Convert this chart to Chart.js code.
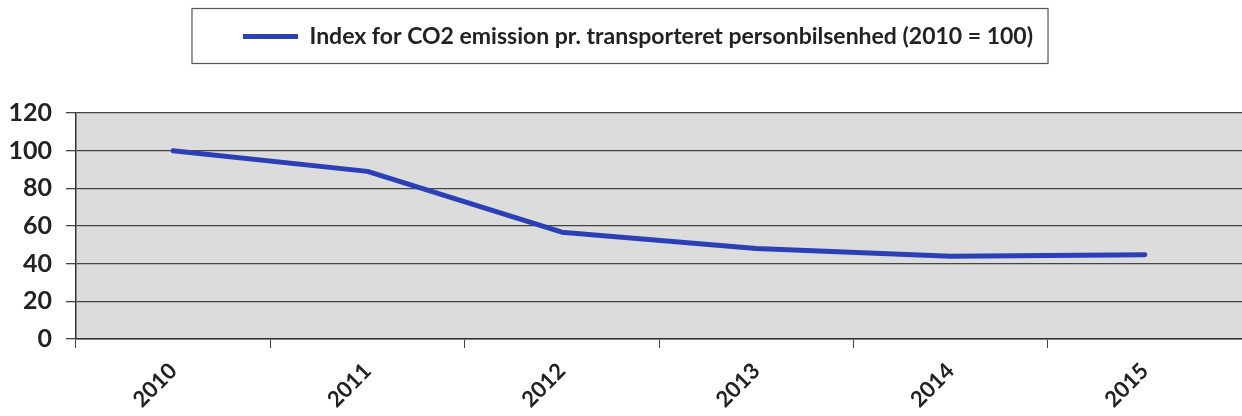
<!DOCTYPE html>
<html>
<head>
<meta charset="utf-8">
<script src="https://cdn.jsdelivr.net/npm/chart.js@4"></script>
<style>
  html, body { margin: 0; padding: 0; background: #fff; }
  #wrap { width: 1242px; height: 416px; }
</style>
</head>
<body>
<div id="wrap"><canvas id="chart" width="1242" height="416"></canvas></div>
<script>
const years = ['2010', '2011', '2012', '2013', '2014', '2015']
const co2Index = [100, 89, 56.7, 48, 44, 44.8]
const seriesLabel = 'Index for CO2 emission pr. transporteret personbilsenhed (2010 = 100)'
const yTicks = [0, 20, 40, 60, 80, 100, 120]

// gray plot area, a frame round the legend and some air under it
const backdrop = {
  id: 'backdrop',
  afterInit(chart) {
    const legend = chart.legend
    const fit = legend.fit.bind(legend)
    legend.fit = () => { fit(); legend.height += 55 }
  },
  afterLayout(chart) {
    // legend sits a little right of centre in the original
    chart.legend.left += 17
    chart.legend.right += 17
  },
  beforeDraw(chart) {
    const { ctx, chartArea: a } = chart
    ctx.save()
    ctx.fillStyle = '#dcdcdc'
    ctx.fillRect(a.left, a.top, a.right - a.left, a.bottom - a.top)
    ctx.restore()
  },
  afterDraw(chart) {
    const box = chart.legend.legendHitBoxes[0]
    if (!box) return
    const { ctx } = chart
    ctx.save()
    ctx.strokeStyle = '#555'
    ctx.lineWidth = 1.2
    ctx.strokeRect(box.left - 51, box.top - 16.5, box.width + 66, box.height + 32)
    ctx.restore()
  }
}

new Chart(document.getElementById('chart').getContext('2d'), {
  type: 'line',
  data: {
    labels: years,
    datasets: [{
      label: seriesLabel,
      data: co2Index,
      borderColor: '#2b40b6',
      backgroundColor: '#2b40b6',
      borderWidth: 5,
      borderCapStyle: 'round',
      borderJoinStyle: 'round',
      pointRadius: 0,
      tension: 0
    }]
  },
  options: {
    responsive: false,
    animation: false,
    layout: { padding: { top: 5, right: 0, left: 0, bottom: 0 } },
    scales: {
      x: {
        offset: true,
        grid: { offset: true, drawOnChartArea: false, color: '#444', tickLength: 9 },
        border: { color: '#333', width: 1.5 },
        ticks: {
          color: '#222',
          font: { family: 'Lato', weight: 'bold', size: 22 },
          minRotation: 45,
          maxRotation: 45,
          padding: 10
        },
        afterFit(scale) { scale.height = 77 }
      },
      y: {
        min: 0,
        max: 120,
        afterBuildTicks(scale) { scale.ticks = yTicks.map(v => ({ value: v })) },
        grid: { color: '#444', lineWidth: 1.3, tickLength: 10 },
        border: { color: '#333', width: 1.5 },
        ticks: {
          color: '#222',
          font: { family: 'Lato', weight: 'bold', size: 25 },
          padding: 14
        },
        afterFit(scale) { scale.width = 76 }
      }
    },
    plugins: {
      legend: {
        position: 'top',
        labels: {
          usePointStyle: true,
          pointStyle: 'line',
          pointStyleWidth: 55,
          color: '#222',
          font: { family: 'Lato', weight: 'bold', size: 23 },
          padding: 20
        }
      },
      tooltip: { enabled: false }
    }
  },
  plugins: [backdrop]
})
</script>
</body>
</html>
